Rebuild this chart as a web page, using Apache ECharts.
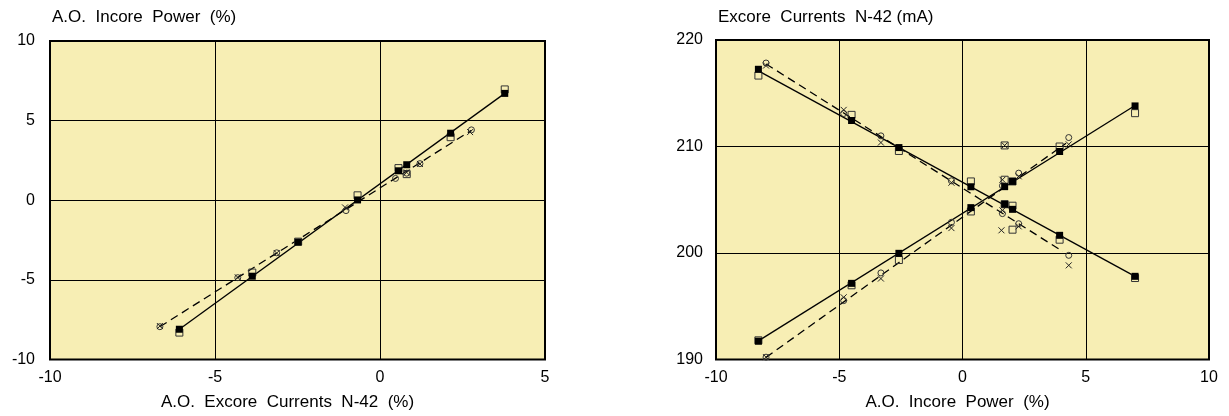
<!DOCTYPE html>
<html>
<head>
<meta charset="utf-8">
<title>A.O. Incore Power vs Excore Currents N-42</title>
<script src="https://cdn.jsdelivr.net/npm/echarts@6/dist/echarts.min.js"></script>
<style>
  html, body { margin: 0; padding: 0; background: #ffffff; }
  #chart { width: 1229px; height: 416px; }
</style>
</head>
<body>
<div id="chart"></div>
<script>
// ---------- Left panel: A.O. Incore Power (%) vs A.O. Excore Currents N-42 (%) ----------
const LEFT_SQ_X      = [-6.08, -3.87, -2.48, -0.68, 0.56, 0.81, 2.14, 3.78];
const LEFT_FILLED_Y  = [-8.10, -4.77, -2.63, 0.02, 1.85, 2.23, 4.21, 6.71];
const LEFT_OPEN_Y    = [-8.31, -4.54, -2.60, 0.31, 2.02, 1.64, 3.96, 6.96];

const LEFT_CIRCLE_X  = [-6.67, -4.31, -3.13, -1.03, 0.47, 0.81, 1.21, 2.77];
const LEFT_CIRCLE_Y  = [-7.94, -4.86, -3.30, -0.65, 1.37, 1.70, 2.30, 4.42];
const LEFT_CROSS_X   = [-6.67, -4.31, -3.13, -1.06, 0.81, 1.21, 2.73];
const LEFT_CROSS_Y   = [-7.90, -4.84, -3.32, -0.45, 1.75, 2.28, 4.28];

// fitted lines (end points)
const LEFT_SOLID_FIT_X  = [-6.08, 3.78];
const LEFT_SOLID_FIT_Y  = [-8.10, 6.71];
const LEFT_DASHED_FIT_X = [-6.67, 2.77];
const LEFT_DASHED_FIT_Y = [-7.94, 4.39];

// ---------- Right panel: Excore Currents N-42 (mA) vs A.O. Incore Power (%) ----------
const RIGHT_SQ_X        = [-8.28, -4.50, -2.58, 0.34, 1.71, 2.03, 3.94, 7.00];
const RIGHT_FILLED_DEC  = [217.25, 212.44, 209.90, 206.22, 204.58, 204.10, 201.66, 197.81];
const RIGHT_FILLED_INC  = [191.72, 197.15, 199.97, 204.26, 206.23, 206.72, 209.53, 213.81];
const RIGHT_OPEN_DEC    = [216.66, 212.97, 209.58, 206.72, 204.58, 204.44, 201.25, 197.65];
const RIGHT_OPEN_INC    = [191.80, 196.97, 199.34, 203.90, 206.88, 206.72, 210.00, 213.13];
const RIGHT_OPEN_EXTRA_X = [1.71, 2.03];
const RIGHT_OPEN_EXTRA_Y = [210.10, 202.19];

const RIGHT_OX_X        = [-7.97, -4.82, -3.31, -0.45, 1.62, 2.28, 4.31];
const RIGHT_CIRCLE_DEC  = [217.84, 213.10, 211.00, 206.78, 203.70, 202.75, 199.78];
const RIGHT_CROSS_DEC   = [217.60, 213.44, 210.37, 206.60, 204.00, 202.50, 198.84];
const RIGHT_CIRCLE_INC  = [190.22, 195.53, 198.13, 202.88, 206.31, 207.50, 210.84];
const RIGHT_CROSS_INC   = [190.22, 195.84, 197.60, 202.34, 206.88, 207.20, 210.20];
const RIGHT_CROSS_EXTRA_X = [1.58, 1.71];
const RIGHT_CROSS_EXTRA_Y = [202.13, 210.10];

const RIGHT_SOLID_DEC_X  = [-8.28, 7.00];
const RIGHT_SOLID_DEC_Y  = [217.10, 197.80];
const RIGHT_SOLID_INC_X  = [-8.28, 7.00];
const RIGHT_SOLID_INC_Y  = [191.75, 213.85];
const RIGHT_DASHED_DEC_X = [-7.97, 4.07];
const RIGHT_DASHED_DEC_Y = [217.75, 200.14];
const RIGHT_DASHED_INC_X = [-7.97, 4.20];
const RIGHT_DASHED_INC_Y = [190.20, 210.30];

// axis settings
const LEFT_X_RANGE  = [-10, 5];
const LEFT_Y_RANGE  = [-10, 10];
const RIGHT_X_RANGE = [-10, 10];
const RIGHT_Y_RANGE = [190, 220];

const LEFT_X_NAME  = 'A.O.  Excore  Currents  N-42  (%)';
const LEFT_Y_NAME  = 'A.O.  Incore  Power  (%)';
const RIGHT_X_NAME = 'A.O.  Incore  Power  (%)';
const RIGHT_Y_NAME = 'Excore  Currents  N-42 (mA)';

const FONT = '"Liberation Sans", Arial, Helvetica, sans-serif';
const INK = '#000000';
const PLOT_BG = '#F7EEB4';

function pairs(xs, ys) {
  const out = [];
  for (let i = 0; i < xs.length; i++) out.push([xs[i], ys[i]]);
  return out;
}

const CROSS = 'path://M0,0L10,10M10,0L0,10';

function fitLine(name, idx, xs, ys, dashed) {
  return {
    name, type: 'line', xAxisIndex: idx, yAxisIndex: idx,
    data: pairs(xs, ys), symbol: 'none', silent: true, z: 2,
    lineStyle: { color: '#000', width: 1.3, type: dashed ? [8, 5] : 'solid' }
  };
}
function filledSq(name, idx, data) {
  return { name, type: 'scatter', xAxisIndex: idx, yAxisIndex: idx, data,
    symbol: 'rect', symbolSize: 7, z: 4, itemStyle: { color: '#000', opacity: 1 } };
}
function openSq(name, idx, data) {
  return { name, type: 'scatter', xAxisIndex: idx, yAxisIndex: idx, data,
    symbol: 'rect', symbolSize: 7, z: 3,
    itemStyle: { color: 'rgba(0,0,0,0)', borderColor: '#333', borderWidth: 1, opacity: 1 } };
}
function circle(name, idx, data) {
  return { name, type: 'scatter', xAxisIndex: idx, yAxisIndex: idx, data,
    symbol: 'circle', symbolSize: 6, z: 3,
    itemStyle: { color: 'rgba(0,0,0,0)', borderColor: '#333', borderWidth: 1, opacity: 1 } };
}
function cross(name, idx, data) {
  return { name, type: 'scatter', xAxisIndex: idx, yAxisIndex: idx, data,
    symbol: CROSS, symbolSize: 6, z: 3,
    itemStyle: { color: 'rgba(0,0,0,0)', borderColor: '#222', borderWidth: 1, opacity: 1 } };
}

function xAxis(idx, range, name, shift) {
  return {
    type: 'value', gridIndex: idx, min: range[0], max: range[1], interval: 5,
    name, nameLocation: 'middle', nameGap: 43,
    nameTextStyle: { fontFamily: FONT, fontSize: 17, color: INK, verticalAlign: 'middle',
                     padding: [0, shift, 0, 0] },
    axisLine: { show: false }, axisTick: { show: false },
    axisLabel: { fontFamily: FONT, fontSize: 16, color: INK, margin: 10, showMaxLabel: true, showMinLabel: true },
    splitLine: { show: true, lineStyle: { color: '#000', width: 1 } }
  };
}
function yAxis(idx, range, interval, margin) {
  return {
    type: 'value', gridIndex: idx, min: range[0], max: range[1], interval,
    axisLine: { show: false }, axisTick: { show: false },
    axisLabel: { fontFamily: FONT, fontSize: 16, color: INK, margin },
    splitLine: { show: true, lineStyle: { color: '#000', width: 1 } }
  };
}
// y-axis captions sit above the top-left corner of each plot
function caption(text, left) {
  return {
    text, left, top: 9, padding: 0,
    textStyle: { fontFamily: FONT, fontSize: 17, fontWeight: 'normal', color: INK }
  };
}

const chart = echarts.init(document.getElementById('chart'), null, { renderer: 'canvas' });
chart.setOption({
  animation: false,
  backgroundColor: '#ffffff',
  title: [caption(LEFT_Y_NAME, 52), caption(RIGHT_Y_NAME, 718)],
  grid: [
    { left: 50, top: 41, width: 495, height: 320, show: true,
      backgroundColor: PLOT_BG, borderColor: '#000', borderWidth: 2 },
    { left: 716, top: 40, width: 493, height: 320, show: true,
      backgroundColor: PLOT_BG, borderColor: '#000', borderWidth: 2 }
  ],
  xAxis: [
    xAxis(0, LEFT_X_RANGE, LEFT_X_NAME, 20),
    xAxis(1, RIGHT_X_RANGE, RIGHT_X_NAME, 10)
  ],
  yAxis: [
    yAxis(0, LEFT_Y_RANGE, 5, 15),
    yAxis(1, RIGHT_Y_RANGE, 10, 13)
  ],
  series: [
    // left panel
    fitLine('Fit (solid)', 0, LEFT_SOLID_FIT_X, LEFT_SOLID_FIT_Y, false),
    fitLine('Fit (dashed)', 0, LEFT_DASHED_FIT_X, LEFT_DASHED_FIT_Y, true),
    openSq('Open square', 0, pairs(LEFT_SQ_X, LEFT_OPEN_Y)),
    circle('Circle', 0, pairs(LEFT_CIRCLE_X, LEFT_CIRCLE_Y)),
    cross('Cross', 0, pairs(LEFT_CROSS_X, LEFT_CROSS_Y)),
    filledSq('Filled square', 0, pairs(LEFT_SQ_X, LEFT_FILLED_Y)),

    // right panel
    fitLine('Fit dec (solid)', 1, RIGHT_SOLID_DEC_X, RIGHT_SOLID_DEC_Y, false),
    fitLine('Fit inc (solid)', 1, RIGHT_SOLID_INC_X, RIGHT_SOLID_INC_Y, false),
    fitLine('Fit dec (dashed)', 1, RIGHT_DASHED_DEC_X, RIGHT_DASHED_DEC_Y, true),
    fitLine('Fit inc (dashed)', 1, RIGHT_DASHED_INC_X, RIGHT_DASHED_INC_Y, true),
    openSq('Open square', 1, pairs(RIGHT_SQ_X, RIGHT_OPEN_DEC)
      .concat(pairs(RIGHT_SQ_X, RIGHT_OPEN_INC))
      .concat(pairs(RIGHT_OPEN_EXTRA_X, RIGHT_OPEN_EXTRA_Y))),
    circle('Circle', 1, pairs(RIGHT_OX_X, RIGHT_CIRCLE_DEC).concat(pairs(RIGHT_OX_X, RIGHT_CIRCLE_INC))),
    cross('Cross', 1, pairs(RIGHT_OX_X, RIGHT_CROSS_DEC)
      .concat(pairs(RIGHT_OX_X, RIGHT_CROSS_INC))
      .concat(pairs(RIGHT_CROSS_EXTRA_X, RIGHT_CROSS_EXTRA_Y))),
    filledSq('Filled square', 1, pairs(RIGHT_SQ_X, RIGHT_FILLED_DEC).concat(pairs(RIGHT_SQ_X, RIGHT_FILLED_INC)))
  ]
});
</script>
</body>
</html>
